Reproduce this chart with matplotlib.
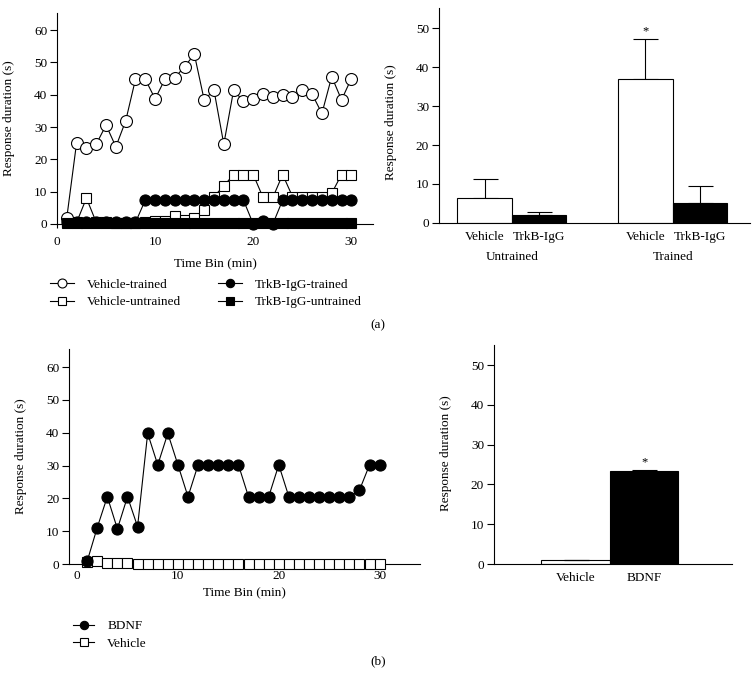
import numpy as np
import matplotlib
matplotlib.use("Agg")
import matplotlib.pyplot as plt

plt.rcParams["font.family"] = ["Liberation Serif", "DejaVu Serif"]
plt.rcParams["font.size"] = 9.5
plt.rcParams["axes.linewidth"] = 0.8

# (a) time course, 1-min bins
time_bins = np.arange(1, 31)
vehicle_trained = [2.0, 25.2, 23.6, 24.7, 30.6, 23.9, 31.9, 44.8, 44.8, 38.7,
                   44.8, 45.2, 48.7, 52.5, 38.4, 41.4, 24.7, 41.4, 38.0, 38.6,
                   40.2, 39.2, 40.0, 39.4, 41.4, 40.2, 34.2, 45.6, 38.4, 45.0]
vehicle_untrained = [0.5, 0.5, 8.0, 0.5, 0.5, 0.3, 0.3, 0.3, 0.5, 0.8,
                     1.0, 2.6, 1.2, 1.8, 4.3, 8.5, 11.8, 15.3, 15.3, 15.3,
                     8.2, 8.2, 15.3, 8.5, 8.5, 8.5, 8.5, 9.5, 15.3, 15.3]
trkb_trained = [0.5, 0.5, 0.5, 0.5, 0.5, 0.5, 0.5, 0.5, 7.4, 7.4,
                7.4, 7.4, 7.4, 7.4, 7.4, 7.4, 7.4, 7.4, 7.4, 0.0,
                1.0, 0.0, 7.4, 7.4, 7.4, 7.4, 7.4, 7.4, 7.4, 7.4]
trkb_untrained = [0.3, 0.3, 0.3, 0.3, 0.3, 0.3, 0.3, 0.3, 0.3, 0.3,
                  0.3, 0.3, 0.3, 0.3, 0.3, 0.3, 0.3, 0.3, 0.3, 0.3,
                  0.3, 0.3, 0.3, 0.3, 0.3, 0.3, 0.3, 0.3, 0.3, 0.3]

# (a) summary bars
group_names = ["Untrained", "Trained"]
bar_labels = ["Vehicle", "TrkB-IgG", "Vehicle", "TrkB-IgG"]
bar_means = [6.3, 2.0, 37.0, 5.0]
bar_err = [5.0, 0.9, 10.4, 4.4]

# (b) time course
bdnf = [0.8, 11.1, 20.5, 10.7, 20.5, 11.4, 39.8, 30.2, 39.8, 30.2,
        20.5, 30.2, 30.2, 30.2, 30.2, 30.2, 20.5, 20.5, 20.5, 30.2,
        20.5, 20.5, 20.5, 20.5, 20.5, 20.5, 20.5, 22.5, 30.2, 30.2]
vehicle_b = [0.5, 0.8, 0.3, 0.3, 0.3, 0.0, 0.0, 0.0, 0.0, 0.0,
             0.0, 0.0, 0.0, 0.0, 0.0, 0.0, 0.0, 0.0, 0.0, 0.0,
             0.0, 0.0, 0.0, 0.0, 0.0, 0.0, 0.0, 0.0, 0.0, 0.0]

# (b) summary bars
bdnf_bar_labels = ["Vehicle", "BDNF"]
bdnf_bar_means = [1.1, 23.3]
bdnf_bar_err = [0.0, 0.4]

fig = plt.figure(figsize=(7.54, 6.9), dpi=100)


def style_axes(ax):
    for s in ["top", "right"]:
        ax.spines[s].set_visible(False)
    ax.tick_params(direction="out", length=5, width=0.8, pad=2)
    ax.set_ylabel("Response duration (s)")


def line(ax, y, marker, face, ms, z):
    ax.plot(time_bins, y, color="black", lw=0.8, marker=marker, ms=ms,
            mfc=face, mec="black", mew=0.8, clip_on=False, zorder=z)


# ---- (a) left: time course
ax1 = fig.add_axes([0.0756, 0.6754, 0.419, 0.3058])
style_axes(ax1)
line(ax1, vehicle_untrained, "s", "white", 7.3, 3)
line(ax1, trkb_trained, "o", "black", 8.0, 4)
line(ax1, vehicle_trained, "o", "white", 8.6, 5)
line(ax1, trkb_untrained, "s", "black", 7.5, 6)
ax1.set_xlim(0, 32.2)
ax1.set_ylim(0, 65.3)
ax1.set_xticks([0, 10, 20, 30])
ax1.set_yticks(range(0, 61, 10))
ax1.tick_params(axis="x", length=3, pad=6)
ax1.set_xlabel("Time Bin (min)", labelpad=7)
ax1.yaxis.set_label_coords(-0.133, 0.5)

handles = [ax1.lines[2], ax1.lines[0], ax1.lines[1], ax1.lines[3]]
labels = ["Vehicle-trained", "Vehicle-untrained",
          "TrkB-IgG-trained", "TrkB-IgG-untrained"]
fig.legend(handles, labels, ncol=2, loc="upper left",
           bbox_to_anchor=(0.058, 0.606), frameon=False, borderpad=0,
           handlelength=1.8, handletextpad=1.0, columnspacing=2.8,
           labelspacing=0.4, markerscale=0.75)

# ---- (a) right: summary bars
ax2 = fig.add_axes([0.582, 0.677, 0.4125, 0.3116])
style_axes(ax2)
pos = np.array([0, 1, 2.96, 3.96]) + 0.84
colors = ["white", "black", "white", "black"]
ax2.bar(pos, bar_means, width=1.0, color=colors, edgecolor="black",
        linewidth=0.8, zorder=2)
ax2.errorbar(pos, bar_means, yerr=[np.zeros(4), bar_err], fmt="none",
             ecolor="black", elinewidth=0.8, capsize=9, capthick=0.8, zorder=1)
ax2.text(pos[2], bar_means[2] + bar_err[2] + 0.3, "*", ha="center",
         va="bottom", fontsize=9)
ax2.set_xlim(0, 5.72)
ax2.set_ylim(0, 55.3)
ax2.set_yticks(range(0, 51, 10))
ax2.set_xticks(pos)
ax2.set_xticklabels(bar_labels)
ax2.tick_params(axis="x", length=0, pad=6)
for i, g in enumerate(group_names):
    ax2.text(pos[2 * i:2 * i + 2].mean(), -0.158, g, ha="center", va="center",
             transform=ax2.get_xaxis_transform())
ax2.yaxis.set_label_coords(-0.135, 0.47)

fig.text(0.501, 0.529, "(a)", ha="center", va="center")

# ---- (b) left: time course
ax3 = fig.add_axes([0.0915, 0.1826, 0.4655, 0.3116])
style_axes(ax3)
line(ax3, vehicle_b, "s", "white", 7.3, 3)
line(ax3, bdnf, "o", "black", 8.0, 4)
ax3.set_xlim(-0.8, 34)
ax3.set_ylim(0, 65.5)
ax3.set_xticks([0, 10, 20, 30])
ax3.set_yticks(range(0, 61, 10))
ax3.tick_params(axis="x", length=0, pad=4)
ax3.set_xlabel("Time Bin (min)", labelpad=4)
ax3.yaxis.set_label_coords(-0.12, 0.5)

fig.legend([ax3.lines[1], ax3.lines[0]], ["BDNF", "Vehicle"], loc="upper left",
           bbox_to_anchor=(0.088, 0.111), frameon=False, borderpad=0,
           handlelength=1.6, handletextpad=1.0, labelspacing=0.4,
           markerscale=0.75)

# ---- (b) right: summary bars
ax4 = fig.add_axes([0.655, 0.1826, 0.3157, 0.317])
style_axes(ax4)
pos_b = np.arange(2) + 1.19
ax4.bar(pos_b, bdnf_bar_means, width=1.0, color=["white", "black"],
        edgecolor="black", linewidth=0.8, zorder=2)
ax4.errorbar(pos_b, bdnf_bar_means, yerr=[np.zeros(2), bdnf_bar_err],
             fmt="none", ecolor="black", elinewidth=0.8, capsize=9,
             capthick=0.8, zorder=3)
ax4.text(pos_b[1], bdnf_bar_means[1] + bdnf_bar_err[1] + 0.3, "*",
         ha="center", va="bottom", fontsize=9)
ax4.set_xlim(0, 3.47)
ax4.set_ylim(0, 55)
ax4.set_yticks(range(0, 51, 10))
ax4.set_xticks(pos_b)
ax4.set_xticklabels(bdnf_bar_labels)
ax4.tick_params(axis="x", length=0, pad=6)
ax4.yaxis.set_label_coords(-0.176, 0.507)

fig.text(0.501, 0.041, "(b)", ha="center", va="center")

fig.savefig("out.png", dpi=100)
